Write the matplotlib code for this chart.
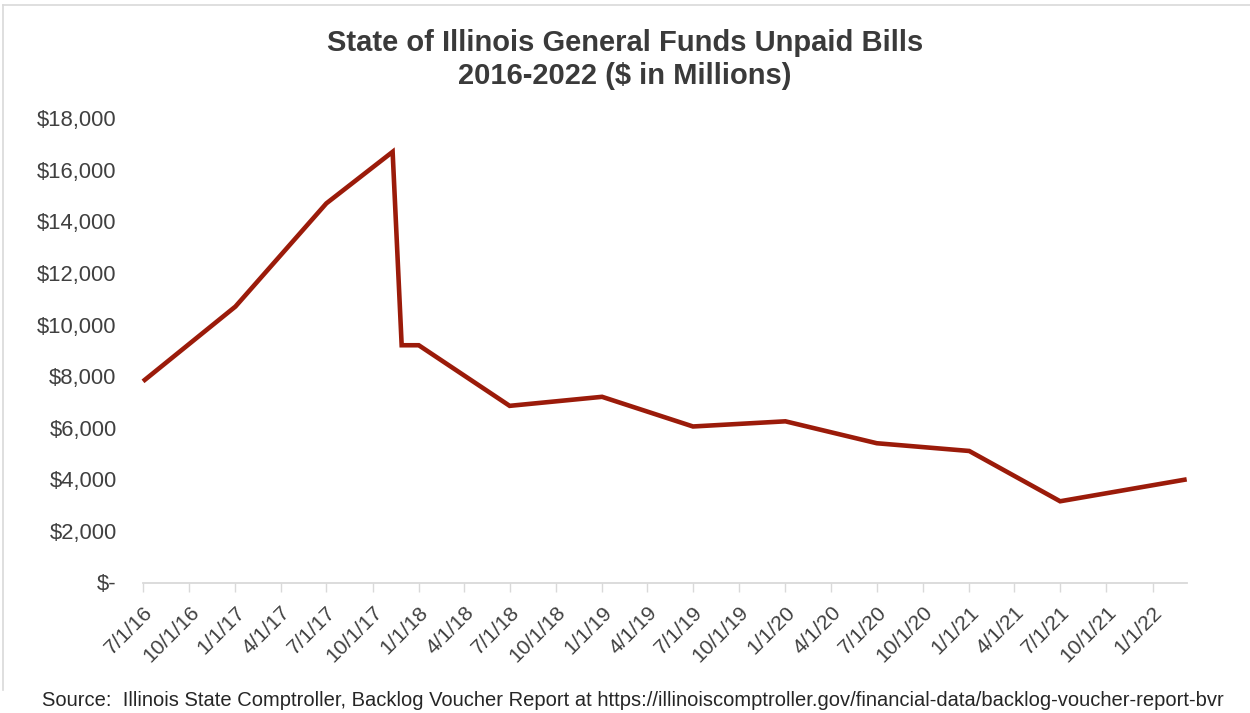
import matplotlib
matplotlib.use("Agg")
import matplotlib.pyplot as plt
from matplotlib.lines import Line2D
import pandas as pd

plt.rcParams['font.family'] = ['Liberation Sans', 'DejaVu Sans']

# ---- data ----
dates = ["2016-07-01", "2017-01-01", "2017-07-01", "2017-11-10", "2017-11-28",
         "2018-01-01", "2018-07-01", "2019-01-01", "2019-07-01", "2020-01-01",
         "2020-07-01", "2021-01-01", "2021-07-01", "2022-03-10"]
unpaid_bills = [7800, 10700, 14700, 16700, 9200,
                9200, 6850, 7200, 6050, 6250,
                5400, 5100, 3150, 4000]

tick_dates = ["2016-07-01", "2016-10-01", "2017-01-01", "2017-04-01", "2017-07-01",
              "2017-10-01", "2018-01-01", "2018-04-01", "2018-07-01", "2018-10-01",
              "2019-01-01", "2019-04-01", "2019-07-01", "2019-10-01", "2020-01-01",
              "2020-04-01", "2020-07-01", "2020-10-01", "2021-01-01", "2021-04-01",
              "2021-07-01", "2021-10-01", "2022-01-01"]
tick_labels = ["7/1/16", "10/1/16", "1/1/17", "4/1/17", "7/1/17", "10/1/17",
               "1/1/18", "4/1/18", "7/1/18", "10/1/18", "1/1/19", "4/1/19",
               "7/1/19", "10/1/19", "1/1/20", "4/1/20", "7/1/20", "10/1/20",
               "1/1/21", "4/1/21", "7/1/21", "10/1/21", "1/1/22"]
y_ticks = [0, 2000, 4000, 6000, 8000, 10000, 12000, 14000, 16000, 18000]
y_labels = ["$-", "$2,000", "$4,000", "$6,000", "$8,000", "$10,000",
            "$12,000", "$14,000", "$16,000", "$18,000"]

title_line1 = "State of Illinois General Funds Unpaid Bills"
title_line2 = "2016-2022 ($ in Millions)"
source = ("Source:  Illinois State Comptroller, Backlog Voucher Report at "
          "https://illinoiscomptroller.gov/financial-data/backlog-voucher-report-bvr")

# ---- figure ----
W, H = 1250, 713
fig = plt.figure(figsize=(W / 100, H / 100), dpi=100)
fig.patch.set_facecolor("white")

# chart-area border (left and top visible)
fig.add_artist(Line2D([3 / W, 3 / W], [1 - 5 / H, 1 - 690 / H], transform=fig.transFigure,
                      color="#d9d9d9", lw=1.2))
fig.add_artist(Line2D([3 / W, 1.0], [1 - 5 / H, 1 - 5 / H], transform=fig.transFigure,
                      color="#d9d9d9", lw=1.2))

left, right = 143 / W, 1186.7 / W
bottom, top = 1 - 582.5 / H, 1 - 118.3 / H
ax = fig.add_axes([left, bottom, right - left, top - bottom])

x = pd.to_datetime(dates)
ax.plot(x, unpaid_bills, color="#9b1b0a", lw=3.3, solid_joinstyle="miter",
        solid_capstyle="butt", clip_on=False)

ax.set_xlim(x[0], x[-1])
ax.set_ylim(0, 18000)

ax.set_xticks(pd.to_datetime(tick_dates))
ax.set_xticklabels(tick_labels, rotation=45, ha="right", rotation_mode="anchor",
                   fontsize=15.2, color="#404040")
ax.set_yticks(y_ticks)
ax.set_yticklabels(y_labels, fontsize=15.8, color="#404040")

for s in ["top", "right", "left"]:
    ax.spines[s].set_visible(False)
ax.spines["bottom"].set_color("#d9d9d9")
ax.spines["bottom"].set_linewidth(1.3)
ax.tick_params(axis="x", direction="out", length=6.5, width=1.0, color="#d9d9d9", pad=8)
ax.tick_params(axis="y", length=0, pad=19)

fig.text(0.5, 1 - 43 / H, title_line1, ha="center", va="center", fontsize=21,
         fontweight="bold", color="#3a3a3a")
fig.text(0.5, 1 - 76 / H, title_line2, ha="center", va="center", fontsize=21,
         fontweight="bold", color="#3a3a3a")
fig.text(42 / W, 1 - 700 / H, source, ha="left", va="center", fontsize=14.5,
         color="#262626")

fig.savefig("out.png", dpi=100, facecolor="white")
